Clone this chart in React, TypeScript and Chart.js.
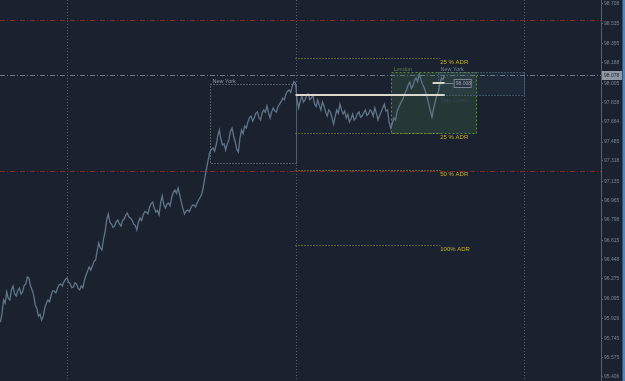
import React, { useEffect, useRef } from "react";
import { Chart, registerables } from "chart.js";

Chart.register(...registerables);

// ---- data ----
const startHour = -7;
const stepHours = 1 / 6;
const price = [
  95.892, 95.965, 96.087, 96.06, 96.158, 96.101, 96.087, 96.18, 96.211, 96.14,
  96.122, 96.172, 96.193, 96.14, 96.158, 96.215, 96.229, 96.29, 96.282, 96.21,
  96.176, 96.128, 96.043, 96.01, 95.945, 95.96, 95.91, 95.942, 96.016, 96.06,
  96.087, 96.07, 96.131, 96.17, 96.167, 96.15, 96.193, 96.222, 96.229, 96.212,
  96.246, 96.27, 96.282, 96.248, 96.229, 96.196, 96.202, 96.24, 96.229, 96.19,
  96.176, 96.21, 96.193, 96.262, 96.308, 96.345, 96.379, 96.352, 96.388, 96.43,
  96.441, 96.52, 96.592, 96.548, 96.53, 96.628, 96.689, 96.8, 96.848, 96.776,
  96.76, 96.731, 96.742, 96.78, 96.795, 96.76, 96.742, 96.79, 96.804, 96.838,
  96.857, 96.822, 96.813, 96.795, 96.76, 96.748, 96.707, 96.775, 96.813, 96.79,
  96.84, 96.87, 96.866, 96.85, 96.91, 96.94, 96.955, 96.9, 96.866, 96.88,
  96.84, 96.95, 97.008, 96.93, 96.902, 96.935, 96.946, 96.92, 96.999, 97.04,
  97.061, 97.03, 97.079, 97.02, 96.955, 96.9, 96.848, 96.875, 96.884, 96.868,
  96.902, 96.925, 96.928, 96.91, 96.946, 96.975, 96.999, 97.03, 97.096, 97.18,
  97.256, 97.33, 97.397, 97.42, 97.433, 97.405, 97.459, 97.54, 97.592, 97.51,
  97.459, 97.47, 97.415, 97.47, 97.504, 97.58, 97.61, 97.54, 97.486, 97.42,
  97.397, 97.52, 97.592, 97.56, 97.628, 97.61, 97.663, 97.7, 97.716, 97.672,
  97.698, 97.74, 97.752, 97.7, 97.681, 97.745, 97.769, 97.75, 97.805, 97.745,
  97.698, 97.755, 97.787, 97.76, 97.752, 97.8, 97.822, 97.845, 97.875, 97.86,
  97.911, 97.935, 97.946, 97.925, 97.982, 98.02, 98.008, 97.86, 97.787, 97.85,
  97.893, 97.84, 97.858, 97.9, 97.911, 97.86, 97.875, 97.9, 97.822, 97.8,
  97.858, 97.81, 97.769, 97.84, 97.805, 97.75, 97.716, 97.77, 97.752, 97.7,
  97.645, 97.71, 97.769, 97.74, 97.822, 97.77, 97.734, 97.76, 97.698, 97.73,
  97.663, 97.69, 97.734, 97.68, 97.698, 97.735, 97.752, 97.705, 97.716, 97.745,
  97.769, 97.72, 97.734, 97.77, 97.752, 97.715, 97.787, 97.74, 97.681, 97.72,
  97.752, 97.79, 97.822, 97.76, 97.769, 97.66, 97.61, 97.65, 97.698, 97.68,
  97.752, 97.79, 97.822, 97.85, 97.875, 97.92, 97.946, 97.99, 98.017, 97.96,
  97.982, 98.03, 98.053, 98.02, 98.088, 98.04, 97.999, 97.97, 97.929, 97.88,
  97.822, 97.76, 97.707, 97.78, 97.84, 97.9, 97.929, 98.0, 98.053, 98.04,
  98.079,
];
const tickValues = [
  98.708, 98.535, 98.355, 98.188, 98.005, 97.838, 97.664, 97.485, 97.318, 97.135,
  96.965, 96.798, 96.615, 96.448, 96.275, 96.095, 95.926, 95.745, 95.575, 95.406,
];
const viewStartHour = -7.04;
const viewEndHour = 56.09;
const priceMin = 95.37;
const priceMax = 98.743;

const daySeparators = [0, 24, 48];
const redLevels = [98.566, 97.229];
const currentPrice = 98.078;

const dayOpenStart = 24;
const dayOpenEnd = 39.67;
const dayOpenLevel = 97.902;

const adrStart = 24;
const adrEnd = 39.2;
const adrLevels = [98.23, 97.566, 97.238, 96.574];
const adrLabels = ["25 % ADR", "25 % ADR", "50 % ADR", "100% ADR"];

const sessionNames = ["New York", "London", "New York"];
const sessionStarts = [15, 34, 39];
const sessionEnds = [24, 43, 48];
const sessionHighs = [97.997, 98.106, 98.106];
const sessionLows = [97.3, 97.566, 97.902];

const prevCloseLevel = 98.008;
const prevCloseStart = 38.4;
const prevCloseEnd = 39.67;
const prevCloseLabel = "98.008";

// ---- styles ----
const BG = "#19222e";
const FONT = "'Liberation Sans', Arial, sans-serif";
const sessionStroke = ["#8a96a2", "#5f8a3e", "#5e7c96"];
const sessionFill = ["rgba(0,0,0,0)", "rgba(70,110,80,0.28)", "rgba(80,110,140,0.12)"];
const sessionLabelColor = ["#8f9aa6", "#5f7d4c", "#6d8599"];

const overlay = {
  id: "overlay",
  beforeDraw(chart: any) {
    const { ctx, width, height } = chart;
    ctx.save();
    ctx.fillStyle = BG;
    ctx.fillRect(0, 0, width, height);
    ctx.restore();
  },
  beforeDatasetsDraw(chart: any) {
    const { ctx, chartArea: a, scales } = chart;
    const x = scales.x;
    const y = scales.y;
    ctx.save();
    ctx.lineWidth = 1;
    // day separators
    ctx.strokeStyle = "#52606e";
    ctx.setLineDash([1, 2]);
    daySeparators.forEach((h) => {
      const px = Math.round(x.getPixelForValue(h)) + 0.5;
      ctx.beginPath();
      ctx.moveTo(px, a.top);
      ctx.lineTo(px, a.bottom);
      ctx.stroke();
    });
    // red levels
    ctx.strokeStyle = "#862527";
    ctx.setLineDash([5, 2, 1, 2]);
    redLevels.forEach((v) => {
      const py = Math.round(y.getPixelForValue(v)) + 0.5;
      ctx.beginPath();
      ctx.moveTo(a.left, py);
      ctx.lineTo(a.right, py);
      ctx.stroke();
    });
    // current price line
    ctx.strokeStyle = "#6b7785";
    const cp = Math.round(y.getPixelForValue(currentPrice)) + 0.5;
    ctx.beginPath();
    ctx.moveTo(a.left, cp);
    ctx.lineTo(a.right, cp);
    ctx.stroke();
    // sessions
    sessionNames.forEach((name, i) => {
      const x0 = Math.round(x.getPixelForValue(sessionStarts[i])) + 0.5;
      const x1 = Math.round(x.getPixelForValue(sessionEnds[i])) + 0.5;
      const y0 = Math.round(y.getPixelForValue(sessionHighs[i])) + 0.5;
      const y1 = Math.round(y.getPixelForValue(sessionLows[i])) + 0.5;
      ctx.setLineDash([]);
      ctx.fillStyle = sessionFill[i];
      ctx.fillRect(x0, y0, x1 - x0, y1 - y0);
      ctx.setLineDash(i === 1 ? [2, 2] : [1, 2]);
      ctx.strokeStyle = sessionStroke[i];
      ctx.strokeRect(x0, y0, x1 - x0, y1 - y0);
      ctx.setLineDash([]);
      ctx.fillStyle = sessionLabelColor[i];
      ctx.font = `5.5px ${FONT}`;
      ctx.textBaseline = "bottom";
      ctx.textAlign = "left";
      ctx.fillText(name, x0 + 2, y0 - 0.5);
    });
    // ADR lines
    ctx.strokeStyle = "#a39a24";
    ctx.setLineDash([1, 2]);
    const ax0 = x.getPixelForValue(adrStart);
    const ax1 = x.getPixelForValue(adrEnd);
    adrLevels.forEach((v, i) => {
      const py = Math.round(y.getPixelForValue(v)) + 0.5;
      ctx.beginPath();
      ctx.moveTo(ax0, py);
      ctx.lineTo(ax1, py);
      ctx.stroke();
      ctx.fillStyle = "#c4ae2e";
      ctx.font = `6px ${FONT}`;
      ctx.textBaseline = "top";
      ctx.textAlign = "left";
      ctx.fillText(adrLabels[i], ax1, py + 0.5);
    });
    ctx.restore();
  },
  afterDatasetsDraw(chart: any) {
    const { ctx, scales } = chart;
    const x = scales.x;
    const y = scales.y;
    ctx.save();
    // day open
    const dy = Math.round(y.getPixelForValue(dayOpenLevel));
    const dx0 = x.getPixelForValue(dayOpenStart);
    const dx1 = x.getPixelForValue(dayOpenEnd);
    ctx.strokeStyle = "#ddd8cc";
    ctx.lineWidth = 2;
    ctx.beginPath();
    ctx.moveTo(dx0, dy);
    ctx.lineTo(dx1, dy);
    ctx.stroke();
    ctx.fillStyle = "#3b4755";
    ctx.font = `6px ${FONT}`;
    ctx.textBaseline = "top";
    ctx.textAlign = "left";
    ctx.fillText("Day Open", dx1 - 4, dy + 2);
    // previous close marker
    const py = Math.round(y.getPixelForValue(prevCloseLevel));
    const px0 = x.getPixelForValue(prevCloseStart);
    const px1 = x.getPixelForValue(prevCloseEnd);
    ctx.strokeStyle = "#d8d4c8";
    ctx.lineWidth = 2;
    ctx.beginPath();
    ctx.moveTo(px0, py);
    ctx.lineTo(px1, py);
    ctx.stroke();
    ctx.strokeStyle = "#7a8592";
    ctx.lineWidth = 1;
    ctx.beginPath();
    ctx.moveTo(px1, py + 0.5);
    ctx.lineTo(px1 + 9, py + 0.5);
    ctx.stroke();
    ctx.fillStyle = "#2a3440";
    ctx.fillRect(px1 + 9.5, py - 3.5, 17, 8);
    ctx.strokeStyle = "#7a8592";
    ctx.strokeRect(px1 + 9.5, py - 3.5, 17, 8);
    ctx.fillStyle = "#9aa4ae";
    ctx.font = `5px ${FONT}`;
    ctx.textBaseline = "middle";
    ctx.fillText(prevCloseLabel, px1 + 11, py + 0.5);
    ctx.restore();
  },
  afterDraw(chart: any) {
    const { ctx, chartArea: a, scales, width, height } = chart;
    const y = scales.y;
    ctx.save();
    const cp = Math.round(y.getPixelForValue(currentPrice));
    ctx.fillStyle = "#8d98a3";
    ctx.fillRect(a.right + 1, cp - 4, 20, 9);
    ctx.fillStyle = "#1d2631";
    ctx.font = `5px ${FONT}`;
    ctx.textBaseline = "middle";
    ctx.textAlign = "left";
    ctx.fillText(currentPrice.toFixed(3), a.right + 3, cp + 0.5);
    ctx.fillStyle = "#4f86bf";
    ctx.fillRect(width - 2.5, 0, 2.5, height);
    ctx.restore();
  },
};

export default function App() {
  const ref = useRef<HTMLCanvasElement | null>(null);
  useEffect(() => {
    document.body.style.margin = "0";
    const canvas = ref.current;
    if (!canvas) return;
    const chart = new Chart(canvas, {
      type: "line",
      data: {
        datasets: [
          {
            data: price.map((v, i) => ({ x: startHour + i * stepHours, y: v })),
            borderColor: "#627588",
            borderWidth: 1.3,
            pointRadius: 0,
            tension: 0,
            fill: false,
          },
        ],
      },
      options: {
        animation: false,
        responsive: false,
        maintainAspectRatio: false,
        layout: { padding: 0 },
        plugins: { legend: { display: false }, tooltip: { enabled: false } },
        scales: {
          x: { type: "linear", min: viewStartHour, max: viewEndHour, display: false },
          y: {
            position: "right",
            min: priceMin,
            max: priceMax,
            afterFit(s: any) {
              s.width = 24;
              s.paddingTop = 0;
              s.paddingBottom = 0;
            },
            afterBuildTicks(s: any) {
              s.ticks = tickValues.map((v) => ({ value: v }));
            },
            ticks: {
              color: "#7b8794",
              font: { size: 5, family: FONT },
              padding: 1,
              autoSkip: false,
              callback: (v: any) => Number(v).toFixed(3),
            },
            grid: { drawOnChartArea: false, tickLength: 2, color: "#56636f" },
            border: { color: "#56636f" },
          },
        },
      },
      plugins: [overlay],
    });
    return () => chart.destroy();
  }, []);
  return (
    <div style={{ width: 625, height: 381 }}>
      <canvas ref={ref} width={625} height={381} style={{ width: 625, height: 381, display: "block" }} />
    </div>
  );
}
